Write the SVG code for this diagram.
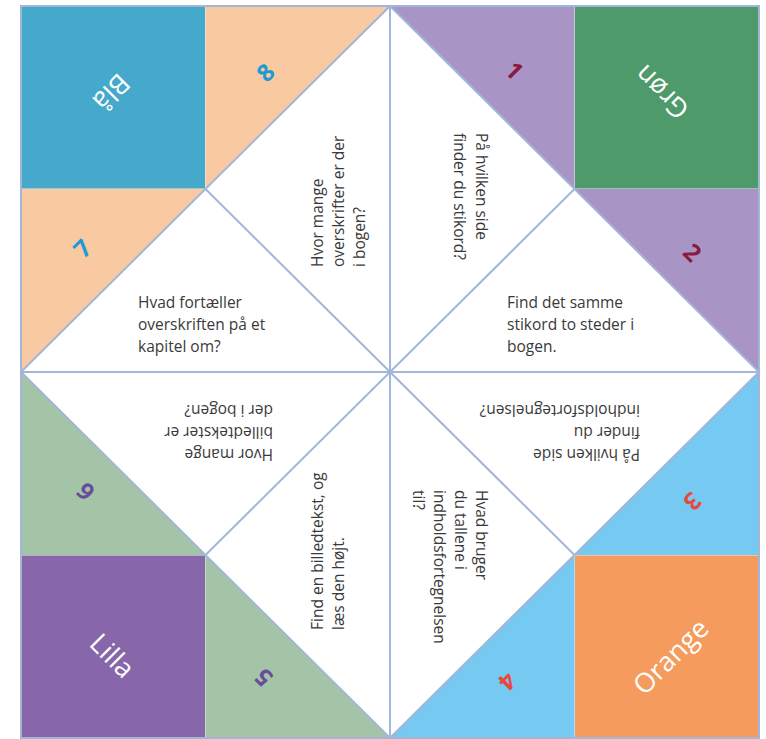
<svg xmlns="http://www.w3.org/2000/svg" width="766" height="739" viewBox="0 0 766 739">
<style>
.ln{stroke:#a2b6d8;stroke-width:2;fill:none}
.q{font-family:"Open Sans","Noto Sans","Liberation Sans",sans-serif;font-size:15.5px;fill:#3a3a3a}
.lab{font-family:"Open Sans","Noto Sans","Liberation Sans",sans-serif;font-size:27px;fill:#ffffff;text-anchor:middle;dominant-baseline:central}
.num{font-family:"Open Sans","Noto Sans","Liberation Sans",sans-serif;font-size:24px;font-weight:bold;text-anchor:middle;dominant-baseline:central}
.sq{stroke:#e8eef6;stroke-width:1}
</style>
<rect width="766" height="739" fill="#ffffff"/>
<g id="corner-bla">
<rect class="sq" x="21" y="6" width="184.5" height="183" fill="#45a9cc"/>
<polygon points="205.5,6 390,6 205.5,189" fill="#f9c9a1"/>
<polygon points="21,189 205.5,189 21,372" fill="#f9c9a1"/>
<text class="lab" transform="translate(112,93) rotate(135)">Blå</text>
<text class="num" fill="#1d9ad6" transform="translate(265,72) rotate(-45)">8</text>
<text class="num" fill="#1d9ad6" transform="translate(82,248) rotate(-45)">7</text>
</g>
<g id="corner-gron">
<rect class="sq" x="574.5" y="6" width="184.5" height="183" fill="#4f9a6b"/>
<polygon points="390,6 574.5,6 574.5,189" fill="#a994c6"/>
<polygon points="574.5,189 759,189 759,372" fill="#a994c6"/>
<text class="lab" transform="translate(661,93) rotate(225)">Grøn</text>
<text class="num" fill="#8b1a3f" transform="translate(515,70) rotate(45)">1</text>
<text class="num" fill="#8b1a3f" transform="translate(693,252) rotate(45)">2</text>
</g>
<g id="corner-orange">
<rect class="sq" x="574.5" y="555" width="184.5" height="183" fill="#f59b5e"/>
<polygon points="759,372 759,555 574.5,555" fill="#76c9f0"/>
<polygon points="574.5,555 574.5,738 390,738" fill="#76c9f0"/>
<text class="lab" transform="translate(670,656) rotate(-45)">Orange</text>
<text class="num" fill="#e8483f" transform="translate(693,502) rotate(135)">3</text>
<text class="num" fill="#e8483f" transform="translate(508,682) rotate(135)">4</text>
</g>
<g id="corner-lilla">
<rect class="sq" x="21" y="555" width="184.5" height="183" fill="#8766a9"/>
<polygon points="21,372 205.5,555 21,555" fill="#a4c4a7"/>
<polygon points="205.5,555 390,738 205.5,738" fill="#a4c4a7"/>
<text class="lab" transform="translate(113,655) rotate(45)">Lilla</text>
<text class="num" fill="#6a4a9c" transform="translate(263,678) rotate(225)">5</text>
<text class="num" fill="#6a4a9c" transform="translate(85,492) rotate(225)">6</text>
</g>
<g id="connectors">
<rect class="ln" x="21" y="6" width="738" height="732"/>
<polygon class="ln" points="390,6 759,372 390,738 21,372"/>
<line class="ln" x1="390" y1="6" x2="390" y2="738"/>
<line class="ln" x1="21" y1="372" x2="759" y2="372"/>
<line class="ln" x1="205.5" y1="189" x2="574.5" y2="555"/>
<line class="ln" x1="574.5" y1="189" x2="205.5" y2="555"/>
</g>
<g id="q-tl-left">
<text class="q" x="138" y="308">Hvad fortæller</text>
<text class="q" x="138" y="330">overskriften på et</text>
<text class="q" x="138" y="352">kapitel om?</text>
</g>
<g id="q-tl-top" transform="translate(323,267) rotate(-90)">
<text class="q" x="0" y="0">Hvor mange</text>
<text class="q" x="0" y="21">overskrifter er der</text>
<text class="q" x="0" y="42">i bogen?</text>
</g>
<g id="q-tr-top" transform="translate(476,133) rotate(90)">
<text class="q" x="0" y="0">På hvilken side</text>
<text class="q" x="0" y="22">finder du stikord?</text>
</g>
<g id="q-tr-right">
<text class="q" x="507" y="308">Find det samme</text>
<text class="q" x="507" y="330">stikord to steder i</text>
<text class="q" x="507" y="352">bogen.</text>
</g>
<g id="q-br-right" transform="translate(640,449) rotate(180)">
<text class="q" x="0" y="0">På hvilken side</text>
<text class="q" x="0" y="22">finder du</text>
<text class="q" x="0" y="44">indholdsfortegnelsen?</text>
</g>
<g id="q-br-bottom" transform="translate(476,490) rotate(90)">
<text class="q" x="0" y="0">Hvad bruger</text>
<text class="q" x="0" y="21">du tallene i</text>
<text class="q" x="0" y="42">indholdsfortegnelsen</text>
<text class="q" x="0" y="63">til?</text>
</g>
<g id="q-bl-left" transform="translate(273,449) rotate(180)">
<text class="q" x="0" y="0">Hvor mange</text>
<text class="q" x="0" y="22">billedtekster er</text>
<text class="q" x="0" y="44">der i bogen?</text>
</g>
<g id="q-bl-bottom" transform="translate(323,630) rotate(-90)">
<text class="q" x="0" y="0">Find en billedtekst, og</text>
<text class="q" x="0" y="21">læs den højt.</text>
</g>
</svg>
